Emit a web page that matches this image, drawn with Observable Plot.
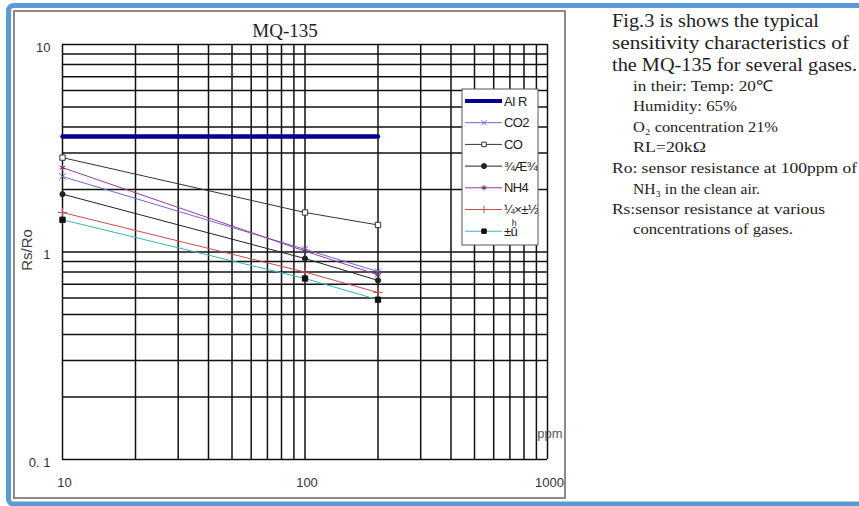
<!DOCTYPE html>
<html>
<head>
<meta charset="utf-8">
<script src="https://cdn.jsdelivr.net/npm/d3@7"></script>
<script src="https://cdn.jsdelivr.net/npm/@observablehq/plot@0.6"></script>
<style>
  html, body { margin: 0; padding: 0; background: #fff; }
  #chart svg { display: block; }
</style>
</head>
<body>
<div id="chart"></div>
<script>
// ---- data ----
const ppm = [10, 100, 200];
const seriesNames = ["AI R", "CO2", "CO", "¾Æ¾«", "NH4", "¼×±½", "±ûͪ"];
const airValues      = [3.6, 3.6, 3.6];
const co2Values      = [2.31, 1.03, 0.805];
const coValues       = [2.85, 1.55, 1.35];
const alcoholValues  = [1.90, 0.93, 0.73];
const nh4Values      = [2.55, 1.01, 0.776];
const tolueneValues  = [1.55, 0.80, 0.638];
const acetoneValues  = [1.43, 0.745, 0.589];
const seriesValues = [airValues, co2Values, coValues, alcoholValues, nh4Values, tolueneValues, acetoneValues];
const seriesColors = ["#000090", "#6a6acd", "#333333", "#222222", "#9b3a9b", "#c0504d", "#3cb4b4"];
const seriesWidths = [4.5, 1, 1, 1, 1, 1, 1];
const seriesSymbols = [null, "times", "square", "circle", "asterisk", "plus", "square"];
const symbolFill = [null, "none", "white", "#222", "#9b3a9b", "none", "#111"];
const symbolStroke = [null, "#6a6acd", "#333", "#222", "#6a2a6a", "#c0504d", "#111"];
const symbolR = [0, 3, 3, 2.6, 3, 3, 3];

const xGrid = [10,20,30,40,50,60,70,80,90,100,200,300,400,500,600,700,800,900,1000];
const yGrid = [0.1,0.2,0.3,0.4,0.5,0.6,0.7,0.8,0.9,1,2,3,4,5,6,7,8,9,10];
const xTickLabels = [10, 100, 1000];
const yTickValues = [10, 1, 0.1];
const yTickLabels = ["10", "1", "0. 1"];

// build table
const rows = [];
seriesNames.forEach((name, i) => {
  ppm.forEach((p, j) => rows.push({series: name, idx: i, ppm: p, v: seriesValues[i][j]}));
});

const marks = [
  Plot.ruleX(xGrid, {x: d => d, stroke: "#111", strokeWidth: 1.5}),
  Plot.ruleY(yGrid, {y: d => d, stroke: "#111", strokeWidth: 1.5}),
];
seriesNames.forEach((name, i) => {
  const d = rows.filter(r => r.idx === i);
  marks.push(Plot.line(d, {x: "ppm", y: "v", stroke: seriesColors[i], strokeWidth: seriesWidths[i]}));
  if (seriesSymbols[i]) {
    marks.push(Plot.dot(d, {x: "ppm", y: "v", symbol: () => seriesSymbols[i], r: symbolR[i],
      fill: symbolFill[i], stroke: symbolStroke[i], strokeWidth: 1}));
  }
});
marks.push(
  Plot.text(xTickLabels, {x: d => d, frameAnchor: "bottom", dy: 27, dx: 2, text: d => String(d),
    fontSize: 13, fill: "#333", fontFamily: "Liberation Sans"}),
  Plot.text(yTickValues, {y: d => d, frameAnchor: "left", dx: -12, dy: 3, textAnchor: "end",
    text: (d, i) => yTickLabels[i], fontSize: 13, fill: "#333", fontFamily: "Liberation Sans"})
);

const chart = Plot.plot({
  width: 859, height: 506,
  marginLeft: 62, marginRight: 312, marginTop: 44, marginBottom: 47,
  x: {type: "log", domain: [10, 1000], axis: null},
  y: {type: "log", domain: [0.1, 10], axis: null},
  style: {background: "white", overflow: "visible"},
  marks
});
document.getElementById("chart").appendChild(chart);

const svg = d3.select(chart);
// frames
svg.insert("rect", ":first-child").attr("x", 14).attr("y", 11).attr("width", 551).attr("height", 487)
  .attr("fill", "none").attr("stroke", "#8a8a8a").attr("stroke-width", 2);
svg.append("rect").attr("x", 8.5).attr("y", 5.5).attr("width", 1000).attr("height", 498.5).attr("rx", 5)
  .attr("fill", "none").attr("stroke", "#5b9bd5").attr("stroke-width", 5);

// title
svg.append("text").attr("x", 285).attr("y", 37).attr("text-anchor", "middle")
  .attr("font-family", "Liberation Serif").attr("font-size", 19).attr("fill", "#222").text("MQ-135");
// y label
svg.append("text").attr("transform", "translate(32,250) rotate(-90)").attr("text-anchor", "middle")
  .attr("font-family", "Liberation Sans").attr("font-size", 15).attr("fill", "#444").text("Rs/Ro");
// ppm
svg.append("text").attr("x", 550).attr("y", 438).attr("text-anchor", "middle")
  .attr("font-family", "Liberation Sans").attr("font-size", 13).attr("fill", "#555").text("ppm");

// legend
const lg = {x: 462, y: 89, w: 76, h: 156};
svg.append("clipPath").attr("id", "lgclip").append("rect")
  .attr("x", lg.x).attr("y", lg.y).attr("width", lg.w).attr("height", lg.h);
const L = svg.append("g");
L.append("rect").attr("x", lg.x).attr("y", lg.y).attr("width", lg.w).attr("height", lg.h)
  .attr("fill", "white").attr("stroke", "#555").attr("stroke-width", 1);
const LT = L.append("g").attr("clip-path", "url(#lgclip)");
seriesNames.forEach((name, i) => {
  const yy = 101 + i * 21.7;
  LT.append("line").attr("x1", 465).attr("x2", 502).attr("y1", yy).attr("y2", yy)
    .attr("stroke", seriesColors[i]).attr("stroke-width", i === 0 ? 4 : 1);
  if (seriesSymbols[i]) {
    const sym = {times: d3.symbolTimes, square: d3.symbolSquare, circle: d3.symbolCircle,
      asterisk: d3.symbolAsterisk, plus: d3.symbolPlus}[seriesSymbols[i]];
    LT.append("path").attr("transform", `translate(484,${yy})`)
      .attr("d", d3.symbol(sym, 20)())
      .attr("fill", symbolFill[i]).attr("stroke", symbolStroke[i]).attr("stroke-width", 1);
  }
  LT.append("text").attr("x", 504).attr("y", yy + 4.5).attr("text-anchor", "start")
    .attr("font-family", "Liberation Sans")
    .attr("font-size", 13).attr("letter-spacing", -0.6).attr("fill", "#222").text(name);
});

// right-hand description
const desc = [
  {t: "Fig.3 is shows the typical", x: 612, y: 27, s: 18, w: 207},
  {t: "sensitivity characteristics of", x: 612, y: 49, s: 18, w: 237},
  {t: "the MQ-135 for several gases.", x: 612, y: 71, s: 18, w: 245},
  {t: "in their: Temp: 20℃", x: 633, y: 91, s: 15, w: 140},
  {t: "Humidity: 65%", x: 633, y: 111, s: 15, w: 104},
  {t: "O₂ concentration 21%", x: 633, y: 132, s: 15, w: 145},
  {t: "RL=20kΩ", x: 633, y: 152, s: 15, w: 73},
  {t: "Ro: sensor resistance at 100ppm of", x: 612, y: 173, s: 15, w: 245},
  {t: "NH₃ in the clean air.", x: 633, y: 194, s: 15, w: 127},
  {t: "Rs:sensor resistance at various", x: 612, y: 214, s: 15, w: 213},
  {t: "concentrations of gases.", x: 633, y: 234, s: 15, w: 160},
];
desc.forEach(d => {
  svg.append("text").attr("x", d.x).attr("y", d.y).attr("text-anchor", "start")
    .attr("font-family", "Liberation Serif")
    .attr("textLength", d.w).attr("lengthAdjust", "spacingAndGlyphs")
    .attr("font-size", d.s).attr("fill", "#222").text(d.t);
});
</script>
</body>
</html>
